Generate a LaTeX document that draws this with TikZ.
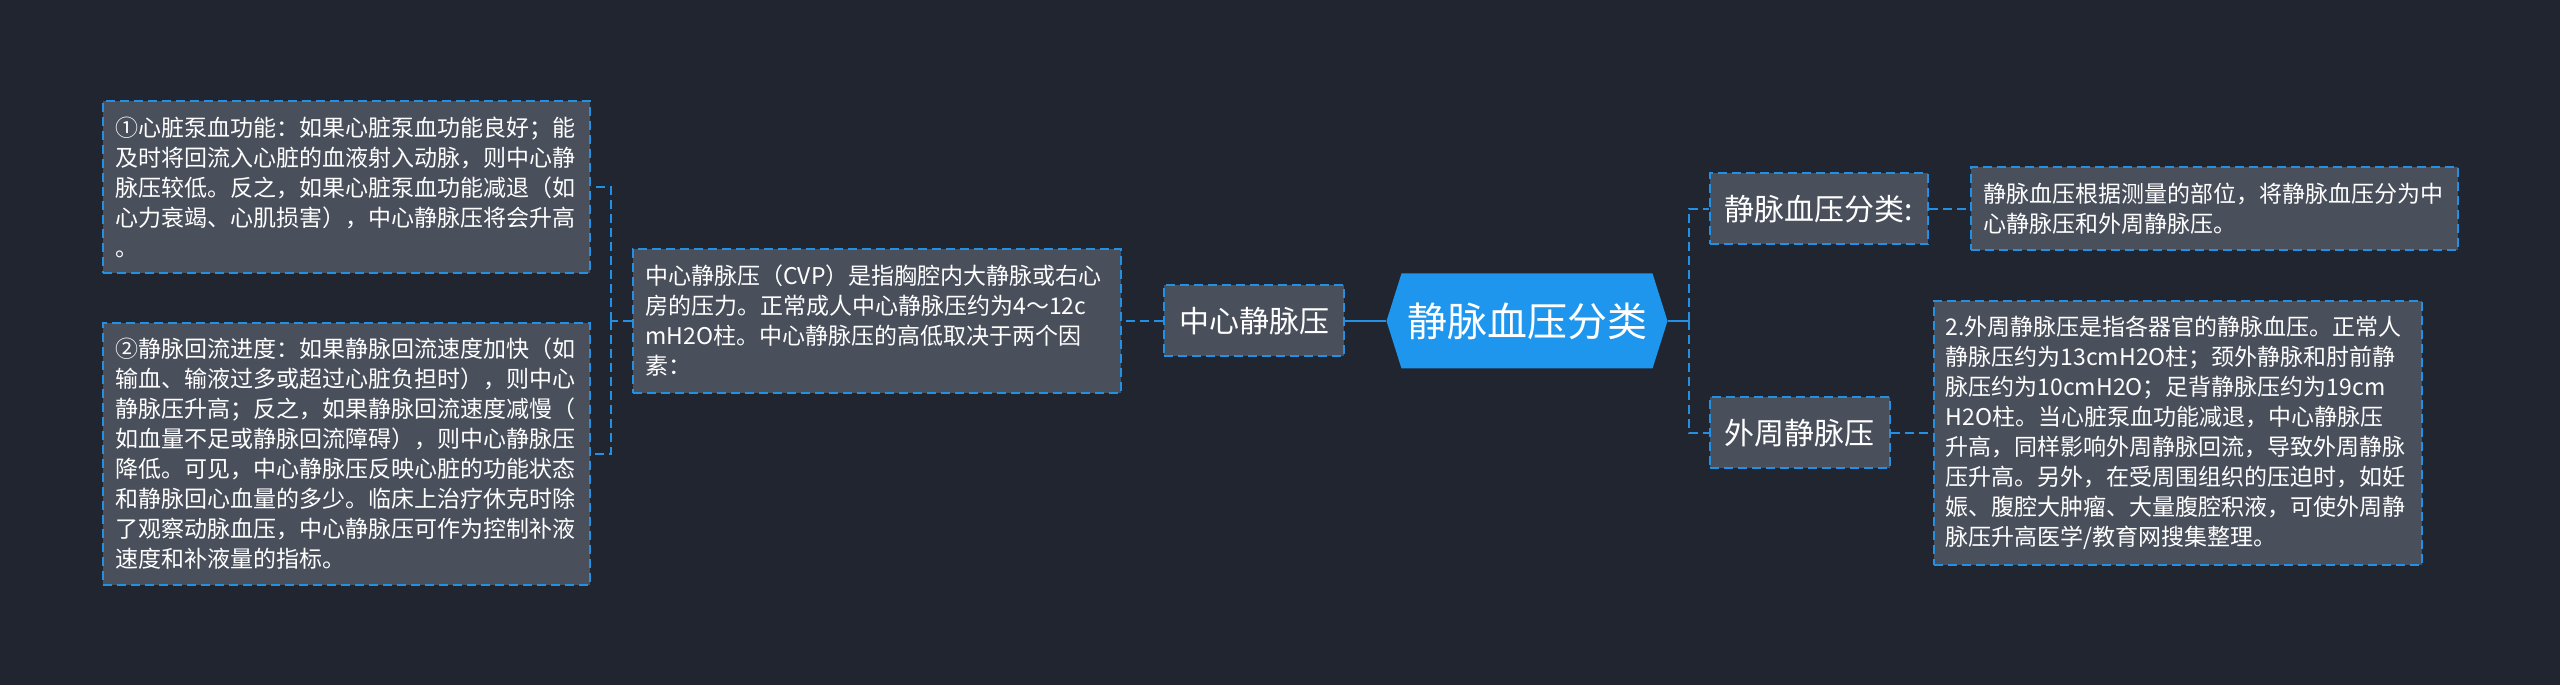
\documentclass[tikz,border=0pt]{standalone}
\usepackage{fontspec}
\setmainfont{Noto Sans CJK SC}
\usetikzlibrary{positioning, shapes.symbols}

\definecolor{bgdark}{HTML}{21252F}
\definecolor{boxgray}{HTML}{4A4F5C}
\definecolor{linkblue}{HTML}{2490E4}
\definecolor{rootblue}{HTML}{1E96EE}

\tikzset{
  notebox/.style={draw=linkblue, line width=2pt, dash pattern=on 9pt off 5pt, fill=boxgray, text=white,
    inner xsep=12pt, align=left, font=\fontsize{23}{30}\selectfont},
  topicbox/.style={draw=linkblue, line width=2pt, dash pattern=on 9pt off 5pt, fill=boxgray, text=white,
    inner xsep=15pt, minimum height=71pt, font=\fontsize{30}{36}\selectfont},
  rootbox/.style={shape=signal, signal to=west and east, signal pointer angle=145, fill=rootblue, text=white,
    minimum width=281pt, minimum height=95pt, font=\fontsize{40}{48}\selectfont},
  dashlink/.style={draw=linkblue, line width=2pt, dash pattern=on 9pt off 5pt},
  solidlink/.style={draw=linkblue, line width=2.5pt}
}

\begin{document}
\begin{tikzpicture}[x=1pt, y=1pt]
    \fill[bgdark] (0,0) rectangle (2560,685);
    \useasboundingbox (0,0) rectangle (2560,685);
    \node (root) [rootbox] at (1527,364) {静脉血压分类};
    % Left branch
    \node (cvpmain) [topicbox, left=41pt of root] {中心静脉压};
    \node (cvpnote) [notebox, text width=464pt, minimum height=144pt, left=41pt of cvpmain]
      {中心静脉压（CVP）是指胸腔内大静脉或右心\\房的压力。正常成人中心静脉压约为4～12c\\mH2O柱。中心静脉压的高低取决于两个因\\素：};
    \node (pumpnote) [notebox, text width=463pt, minimum height=172pt, left=41pt of cvpnote, yshift=134pt]
      {①心脏泵血功能：如果心脏泵血功能良好；能\\及时将回流入心脏的血液射入动脉，则中心静\\脉压较低。反之，如果心脏泵血功能减退（如\\心力衰竭、心肌损害），中心静脉压将会升高\\。};
    \node (returnnote) [notebox, text width=463pt, minimum height=262pt, left=41pt of cvpnote, yshift=-133pt]
      {②静脉回流进度：如果静脉回流速度加快（如\\输血、输液过多或超过心脏负担时），则中心\\静脉压升高；反之，如果静脉回流速度减慢（\\如血量不足或静脉回流障碍），则中心静脉压\\降低。可见，中心静脉压反映心脏的功能状态\\和静脉回心血量的多少。临床上治疗休克时除\\了观察动脉血压，中心静脉压可作为控制补液\\速度和补液量的指标。};
    % Right branch
    \node (catmain) [topicbox, right=41pt of root, yshift=112pt] {静脉血压分类:};
    \node (catnote) [notebox, text width=463pt, minimum height=83pt, right=41pt of catmain]
      {静脉血压根据测量的部位，将静脉血压分为中\\心静脉压和外周静脉压。};
    \node (perimain) [topicbox, right=41pt of root, yshift=-112pt] {外周静脉压};
    \node (perinote) [notebox, text width=464pt, minimum height=264pt, right=42pt of perimain]
      {2.外周静脉压是指各器官的静脉血压。正常人\\静脉压约为13cmH2O柱；颈外静脉和肘前静\\脉压约为10cmH2O；足背静脉压约为19cm\\H2O柱。当心脏泵血功能减退，中心静脉压\\升高，同样影响外周静脉回流，导致外周静脉\\压升高。另外，在受周围组织的压迫时，如妊\\娠、腹腔大肿瘤、大量腹腔积液，可使外周静\\脉压升高医学/教育网搜集整理。};
    % Links
    \draw [solidlink] (root.west) -- (cvpmain.east);
    \draw [dashlink] (cvpmain.west) -- (cvpnote.east);
    \draw [dashlink] (cvpnote.west) -- ++(-21,0) coordinate (leftfork);
    \draw [dashlink] (leftfork) |- (pumpnote.east);
    \draw [dashlink] (leftfork) |- (returnnote.east);
    \draw [solidlink] (root.east) -- ++(21,0) coordinate (rightfork);
    \draw [dashlink] (rightfork) |- (catmain.west);
    \draw [dashlink] (rightfork) |- (perimain.west);
    \draw [dashlink] (catmain.east) -- (catnote.west);
    \draw [dashlink] (perimain.east) -- (perinote.west);
\end{tikzpicture}
\end{document}
